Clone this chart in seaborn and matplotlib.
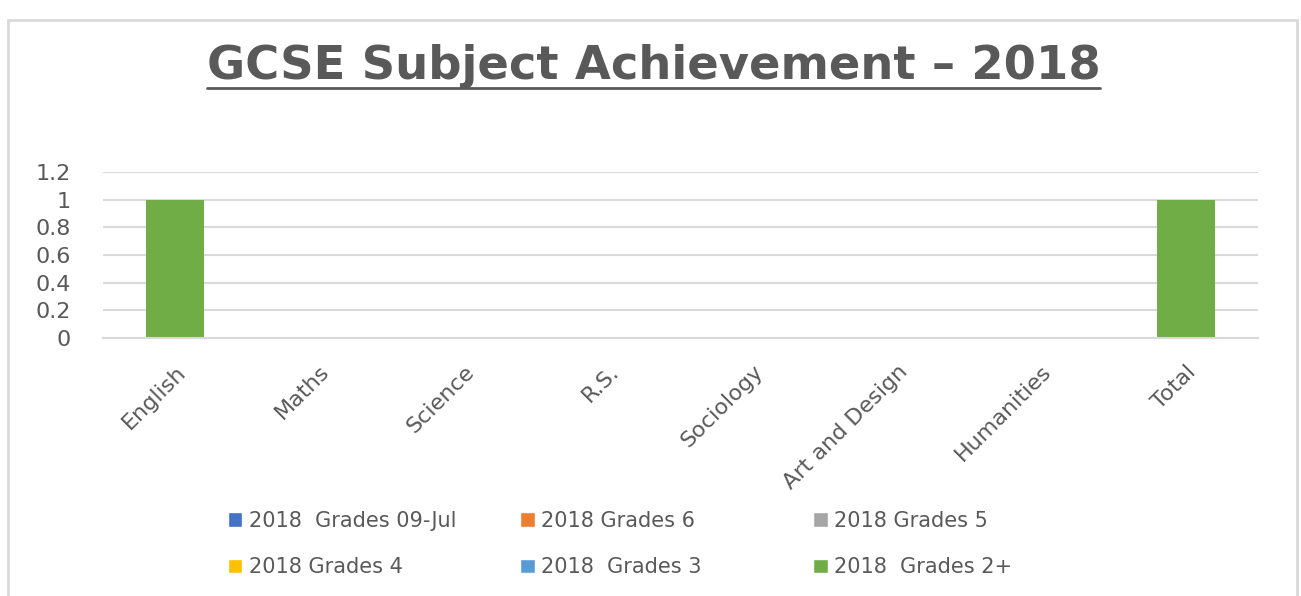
import matplotlib
matplotlib.use("Agg")
import matplotlib.pyplot as plt
from matplotlib.patches import Patch, Rectangle
from matplotlib.lines import Line2D
import seaborn as sns

materias = ["English", "Maths", "Science", "R.S.", "Sociology",
            "Art and Design", "Humanities", "Total"]

series = ["2018  Grades 09-Jul", "2018 Grades 6", "2018 Grades 5",
          "2018 Grades 4", "2018  Grades 3", "2018  Grades 2+"]

grados_7_9 = [0, 0, 0, 0, 0, 0, 0, 0]
grados_6 = [0, 0, 0, 0, 0, 0, 0, 0]
grados_5 = [0, 0, 0, 0, 0, 0, 0, 0]
grados_4 = [0, 0, 0, 0, 0, 0, 0, 0]
grados_3 = [0, 0, 0, 0, 0, 0, 0, 0]
grados_2 = [1, 0, 0, 0, 0, 0, 0, 1]

colores = ["#4472C4", "#ED7D31", "#A5A5A5", "#FFC000", "#5B9BD5", "#70AD47"]
gris = "#595959"

sns.set_style("white")
plt.rcParams["font.family"] = ["DejaVu Sans"]

fig = plt.figure(figsize=(13.01, 5.96), dpi=100)
ax = fig.add_axes([0.0792, 0.4329, 0.8878, 0.2785])

valores = [grados_7_9, grados_6, grados_5, grados_4, grados_3, grados_2]
base = [0] * len(materias)
for nombre, vals, color in zip(series, valores, colores):
    sns.barplot(x=materias, y=vals, color=color, width=0.4, bottom=base,
                ax=ax, linewidth=0, saturation=1)
    base = [b + v for b, v in zip(base, vals)]

ax.set_ylim(0, 1.2)
ax.set_yticks([0, 0.2, 0.4, 0.6, 0.8, 1, 1.2])
ax.set_yticklabels(["0", "0.2", "0.4", "0.6", "0.8", "1", "1.2"])
ax.set_xlim(-0.5, len(materias) - 0.5)
ax.yaxis.grid(True, color="#d9d9d9", linewidth=1.5)
ax.set_axisbelow(True)
for lado in ["top", "right", "left"]:
    ax.spines[lado].set_visible(False)
ax.spines["bottom"].set_color("#d9d9d9")
ax.spines["bottom"].set_linewidth(1.5)
ax.tick_params(axis="y", length=0, pad=23, labelsize=16, labelcolor=gris)
ax.tick_params(axis="x", length=0, pad=17, labelsize=16, labelcolor=gris)
plt.setp(ax.get_xticklabels(), rotation=45, ha="right", rotation_mode="anchor")
ax.set_xlabel("")
ax.set_ylabel("")

# titulo subrayado
titulo = fig.text(0.5023, 0.868, "GCSE Subject Achievement \u2013 2018",
                  ha="center", va="baseline", fontsize=33.5, fontweight="bold",
                  color=gris)
fig.canvas.draw()
caja = titulo.get_window_extent().transformed(fig.transFigure.inverted())
fig.add_artist(Line2D([caja.x0, caja.x1], [0.853, 0.853], color=gris,
                      linewidth=2, transform=fig.transFigure))

# leyenda en tres columnas fijas
columnas = [[0, 3], [1, 4], [2, 5]]
posiciones_x = [0.167, 0.392, 0.617]
for idx, x in zip(columnas, posiciones_x):
    manejadores = [Patch(facecolor=colores[i], label=series[i]) for i in idx]
    ley = fig.legend(handles=manejadores, loc="upper left",
                     bbox_to_anchor=(x, 0.16), frameon=False, fontsize=15,
                     handlelength=0.7, handleheight=0.7, handletextpad=0.3,
                     labelspacing=1.25, borderpad=0, labelcolor=gris)

# marco del grafico
fig.add_artist(Rectangle((8 / 1301, -0.02), (1297 - 8) / 1301, 1.003 - 10 / 596,
                         transform=fig.transFigure, fill=False,
                         edgecolor="#d9d9d9", linewidth=2))

plt.savefig("out.png", dpi=100)
plt.close()
